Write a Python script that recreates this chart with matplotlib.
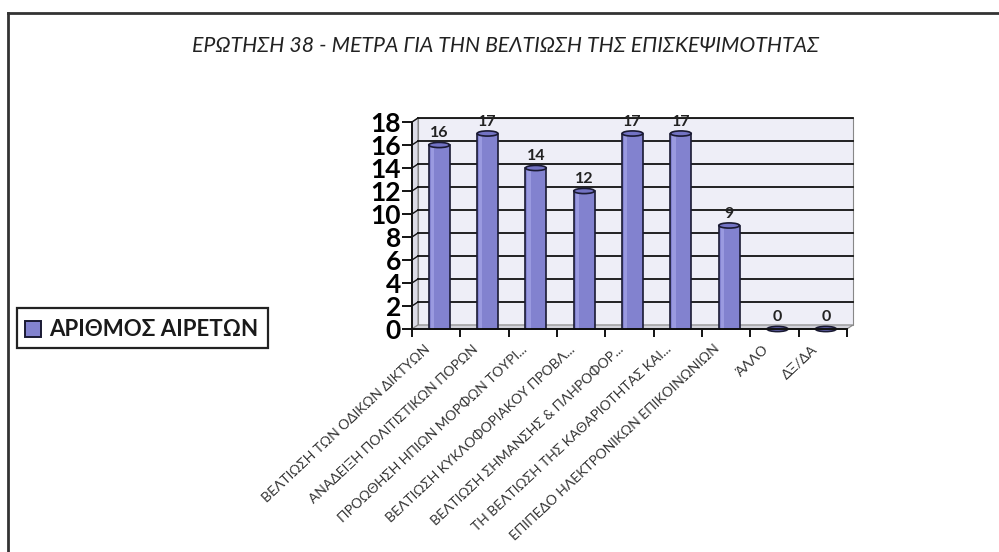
import matplotlib

matplotlib.use("Agg")
import matplotlib.pyplot as plt
from matplotlib.lines import Line2D
from matplotlib.patches import Ellipse, Polygon, Rectangle

categories = [
    "ΒΕΛΤΙΩΣΗ ΤΩΝ ΟΔΙΚΩΝ ΔΙΚΤΥΩΝ",
    "ΑΝΑΔΕΙΞΗ ΠΟΛΙΤΙΣΤΙΚΩΝ ΠΟΡΩΝ",
    "ΠΡΟΩΘΗΣΗ ΗΠΙΩΝ ΜΟΡΦΩΝ ΤΟΥΡΙ...",
    "ΒΕΛΤΙΩΣΗ ΚΥΚΛΟΦΟΡΙΑΚΟΥ ΠΡΟΒΛ...",
    "ΒΕΛΤΙΩΣΗ ΣΗΜΑΝΣΗΣ & ΠΛΗΡΟΦΟΡ...",
    "ΤΗ ΒΕΛΤΙΩΣΗ ΤΗΣ ΚΑΘΑΡΙΟΤΗΤΑΣ ΚΑΙ...",
    "ΕΠΙΠΕΔΟ ΗΛΕΚΤΡΟΝΙΚΩΝ ΕΠΙΚΟΙΝΩΝΙΩΝ",
    "ΆΛΛΟ",
    "ΔΞ/ΔΑ",
]
votes = [16, 17, 14, 12, 17, 17, 9, 0, 0]
series_name = "ΑΡΙΘΜΟΣ ΑΙΡΕΤΩΝ"
title = "ΕΡΩΤΗΣΗ 38 - ΜΕΤΡΑ ΓΙΑ ΤΗΝ ΒΕΛΤΙΩΣΗ ΤΗΣ ΕΠΙΣΚΕΨΙΜΟΤΗΤΑΣ"
y_ticks = list(range(0, 19, 2))

BAR_COLOR = "#8282cf"
WALL_COLOR = "#eeeef7"
FLOOR_COLOR = "#d2d2da"
FONT = ["Lato", "DejaVu Sans"]

plt.rcParams["font.family"] = FONT

W, H = 999, 552
fig = plt.figure(figsize=(W / 100, H / 100), dpi=100)
fig.patch.set_facecolor("white")

# page frame (left and top edge of the scanned box)
fig.add_artist(Line2D([8 / W, 8 / W], [0, 1 - 13 / H], color="#333333", lw=2))
fig.add_artist(Line2D([8 / W, 1], [1 - 13 / H, 1 - 13 / H], color="#333333", lw=2))

fig.text(506 / W, 1 - 46 / H, title, ha="center", va="center",
         fontsize=15.3, style="italic", color="#222222")

ax = fig.add_axes([412 / W, 1 - 329 / H, 435 / W, 207 / H])
ax.set_xlim(-0.5, len(votes) - 0.5)
ax.set_ylim(0, 18)
ax.set_facecolor("none")

# small 3D depth: offset of the back wall in data units
dx = 6 / 48.3
dy = 0.35
x0, x1 = -0.5, len(votes) - 0.5
ytop = y_ticks[-1]

ax.add_patch(Polygon([(x0 + dx, dy), (x1 + dx, dy), (x1 + dx, ytop + dy), (x0 + dx, ytop + dy)],
                     closed=True, facecolor=WALL_COLOR, edgecolor="#888888", lw=0.8,
                     clip_on=False, zorder=0))
ax.add_patch(Polygon([(x0, 0), (x0 + dx, dy), (x0 + dx, ytop + dy), (x0, ytop)],
                     closed=True, facecolor="#dcdce6", edgecolor="#888888", lw=0.8,
                     clip_on=False, zorder=0))
ax.add_patch(Polygon([(x0, 0), (x1, 0), (x1 + dx, dy), (x0 + dx, dy)],
                     closed=True, facecolor=FLOOR_COLOR, edgecolor="#888888", lw=0.8,
                     clip_on=False, zorder=0))
for yv in y_ticks[1:]:
    ax.plot([x0 + dx, x1 + dx], [yv + dy, yv + dy], color="#111111", lw=1.3,
            clip_on=False, zorder=1)
    ax.plot([x0, x0 + dx], [yv, yv + dy], color="#111111", lw=1.0,
            clip_on=False, zorder=1)

bar_w = 0.43
xs = [i + dx / 2 for i in range(len(votes))]
ell_h = 0.45
for x, v in zip(xs, votes):
    if v > 0:
        ax.add_patch(Rectangle((x - bar_w / 2, 0), bar_w, v, facecolor=BAR_COLOR,
                               edgecolor="#1a1a33", lw=1.2, zorder=3, clip_on=False))
        ax.add_patch(Rectangle((x - bar_w / 2 + 0.04, 0), 0.07, v, facecolor="#9a9ae0",
                               edgecolor="none", zorder=3, clip_on=False))
    ax.add_patch(Ellipse((x, v), bar_w, ell_h, facecolor="#7373c4" if v else "#6a6ab8",
                         edgecolor="#1a1a33", lw=1.2, zorder=4, clip_on=False))
    ax.text(x, v + 0.4, str(v), ha="center", va="bottom", fontsize=11.5,
            fontweight="bold", color="#222222", zorder=5)

for s in ["top", "right"]:
    ax.spines[s].set_visible(False)
for s in ["left", "bottom"]:
    ax.spines[s].set_linewidth(1.4)
    ax.spines[s].set_color("#111111")
    ax.spines[s].set_zorder(6)

ax.set_yticks(y_ticks)
ax.set_yticklabels([str(t) for t in y_ticks], fontsize=19, fontweight="bold")
ax.tick_params(axis="y", length=7, width=1.3, pad=1, direction="out")

ax.set_xticks([i + 0.5 for i in range(-1, len(votes))])
ax.set_xticklabels([])
ax.tick_params(axis="x", length=6, width=1.3, direction="out")

for i, lab in enumerate(categories):
    ax.annotate(lab, xy=(xs[i], 0), xycoords="data", xytext=(-8, -13),
                textcoords="offset points", ha="right", va="center",
                rotation=43, rotation_mode="anchor", fontsize=10,
                color="#333333", annotation_clip=False)

# legend box on the left
lx, ly, lw_, lh = 17, 308, 251, 40
fig.add_artist(Rectangle((lx / W, 1 - (ly + lh) / H), lw_ / W, lh / H,
                         transform=fig.transFigure, facecolor="white",
                         edgecolor="#222222", lw=1.6))
fig.add_artist(Rectangle((25 / W, 1 - 337 / H), 16 / W, 16 / H,
                         transform=fig.transFigure, facecolor=BAR_COLOR,
                         edgecolor="#1a1a33", lw=1.4))
fig.text(49 / W, 1 - 329 / H, series_name, ha="left", va="center",
         fontsize=16, fontweight="bold", color="#1a1a1a")

fig.savefig("out.png", dpi=100)
